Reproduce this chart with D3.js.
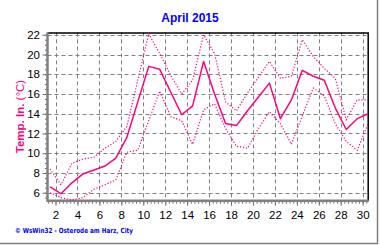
<html>
<script src='https://d3js.org/d3.v7.min.js'></script>
<head>
<style>
    body { margin: 0; background: #ffffff; }
    svg text { font-family: "Liberation Sans", Arial, sans-serif; }
</style>
</head>
<body>
<svg width=380 height=245></svg>
<script>
    // April 2015, daily values (plotted at the middle of each day)
    var days = [1, 2, 3, 4, 5, 6, 7, 8, 9, 10, 11, 12, 13, 14, 15, 16, 17, 18, 19, 20, 21, 22, 23, 24, 25, 26, 27, 28, 29, 30];
    var tempMean = [6.6, 5.9, 7.0, 7.9, 8.3, 8.7, 9.5, 11.6, 15.2, 18.8, 18.5, 16.2, 13.9, 14.8, 19.3, 16.0, 13.0, 12.8, 14.3, 15.7, 17.1, 13.5, 15.4, 18.4, 17.8, 17.4, 14.6, 12.4, 13.5, 14.0];
    var tempMax = [8.4, 6.8, 9.0, 9.4, 9.6, 10.5, 11.2, 12.7, 17.4, 22.1, 20.1, 17.9, 16.0, 17.4, 22.0, 20.1, 15.2, 14.3, 16.1, 17.7, 19.3, 17.6, 17.8, 21.5, 19.8, 18.6, 17.6, 13.4, 15.4, 15.4];
    var tempMin = [6.0, 5.5, 5.25, 5.5, 6.35, 6.8, 7.3, 10.1, 10.3, 13.3, 16.3, 13.7, 13.3, 10.9, 14.4, 15.0, 12.5, 10.7, 10.5, 12.5, 14.2, 13.0, 10.9, 13.8, 16.6, 15.8, 13.0, 11.2, 10.3, 13.0];

    var yTicks = [6, 8, 10, 12, 14, 16, 18, 20, 22];
    var xTicks = [2, 4, 6, 8, 10, 12, 14, 16, 18, 20, 22, 24, 26, 28, 30];

    var lineColor = '#ff0080';
    var gridColor = '#808080';

    var svg = d3.select('svg');

    var x = d3.scaleLinear()
        .domain([1.27, 30.55])
        .range([47.5, 368.7]);

    var y = d3.scaleLinear()
        .domain([5.19, 22.24])
        .range([200.7, 32.4]);

    var plotLeft = x.range()[0], plotRight = x.range()[1];
    var plotTop = y.range()[1], plotBottom = y.range()[0];

    // outer window edge
    svg.append('path')
        .attr('d', 'M0,243.5H377.5V0')
        .attr('fill', 'none')
        .attr('stroke', '#808080')
        .attr('stroke-width', 1.5);

    // title
    svg.append('text')
        .attr('x', 190)
        .attr('y', 21.5)
        .attr('text-anchor', 'middle')
        .style('font-size', '12px')
        .style('font-weight', 'bold')
        .style('fill', '#0000ff')
        .text('April 2015');

    // grid
    svg.append('g')
        .selectAll('line')
        .data(yTicks)
        .enter()
        .append('line')
        .attr('x1', plotLeft)
        .attr('x2', plotRight)
        .attr('y1', function (d) { return Math.round(y(d)) + 0.5 })
        .attr('y2', function (d) { return Math.round(y(d)) + 0.5 })
        .attr('stroke', gridColor)
        .attr('stroke-dasharray', '4,3');

    svg.append('g')
        .selectAll('line')
        .data(xTicks)
        .enter()
        .append('line')
        .attr('x1', function (d) { return Math.round(x(d)) + 0.5 })
        .attr('x2', function (d) { return Math.round(x(d)) + 0.5 })
        .attr('y1', plotTop)
        .attr('y2', plotBottom)
        .attr('stroke', gridColor)
        .attr('stroke-dasharray', '4,3');

    // top and right frame
    svg.append('path')
        .attr('d', 'M' + plotLeft + ',' + (plotTop + 0.5) + 'H' + (plotRight - 0.5) + 'V' + plotBottom)
        .attr('fill', 'none')
        .attr('stroke', '#000000')
        .attr('stroke-width', 1.5);

    // minor ticks
    svg.append('g')
        .attr('transform', 'translate(' + plotLeft + ',0)')
        .call(d3.axisLeft(y)
            .tickValues(d3.range(5.5, 22.01, 0.5))
            .tickSize(2.5)
            .tickFormat(''));

    svg.append('g')
        .attr('transform', 'translate(0,' + plotBottom + ')')
        .call(d3.axisBottom(x)
            .tickValues(d3.range(1, 91).map(function (i) { return 1 + i / 3; }).filter(function (d) { return d < 30.5; }))
            .tickSize(3)
            .tickFormat(''));

    // major ticks and labels
    svg.append('g')
        .attr('transform', 'translate(' + plotLeft + ',0)')
        .call(d3.axisLeft(y)
            .tickValues(yTicks)
            .tickSize(5)
            .tickPadding(2.5));

    svg.append('g')
        .attr('transform', 'translate(0,' + plotBottom + ')')
        .call(d3.axisBottom(x)
            .tickValues(xTicks)
            .tickSize(5)
            .tickPadding(5));

    svg.selectAll('.domain').remove();
    svg.selectAll('.tick line').attr('stroke', '#6e6e6e');
    svg.selectAll('.tick text')
        .style('font-size', '11.5px')
        .style('font-family', '"Liberation Sans", Arial, sans-serif')
        .attr('fill', '#000000');

    // thick grey axes
    svg.append('path')
        .attr('d', 'M' + plotLeft + ',' + plotTop + 'V' + plotBottom + 'H' + plotRight)
        .attr('fill', 'none')
        .attr('stroke', '#808080')
        .attr('stroke-width', 2.5);

    // series
    function lineFor(values) {
        return d3.line()
            .x(function (d, i) { return x(days[i] + 0.5) })
            .y(function (d) { return y(d) })(values);
    }

    svg.append('path')
        .attr('d', lineFor(tempMax))
        .attr('fill', 'none')
        .attr('stroke', lineColor)
        .attr('stroke-width', 1.2)
        .attr('stroke-dasharray', '1.2,1.8');

    svg.append('path')
        .attr('d', lineFor(tempMin))
        .attr('fill', 'none')
        .attr('stroke', lineColor)
        .attr('stroke-width', 1.2)
        .attr('stroke-dasharray', '1.2,1.8');

    svg.append('path')
        .attr('d', lineFor(tempMean))
        .attr('fill', 'none')
        .attr('stroke', lineColor)
        .attr('stroke-width', 1.5)
        .attr('stroke-linejoin', 'round');

    // y axis title
    var yTitle = svg.append('text')
        .attr('transform', 'translate(23.5,' + ((plotTop + plotBottom) / 2) + ') rotate(-90)')
        .attr('text-anchor', 'middle')
        .style('font-size', '11.5px')
        .style('fill', lineColor);
    yTitle.append('tspan').style('font-weight', 'bold').text('Temp. In. ');
    yTitle.append('tspan').text('(°C)');

    // footer
    svg.append('text')
        .attr('x', 15)
        .attr('y', 233)
        .attr('textLength', 118)
        .attr('lengthAdjust', 'spacingAndGlyphs')
        .style('font-size', '7px')
        .style('font-family', '"DejaVu Sans", Verdana, sans-serif')
        .style('font-weight', 'bold')
        .style('fill', '#0000ff')
        .text('© WsWin32  -  Osterode am Harz, City');
</script>
</body>
</html>
